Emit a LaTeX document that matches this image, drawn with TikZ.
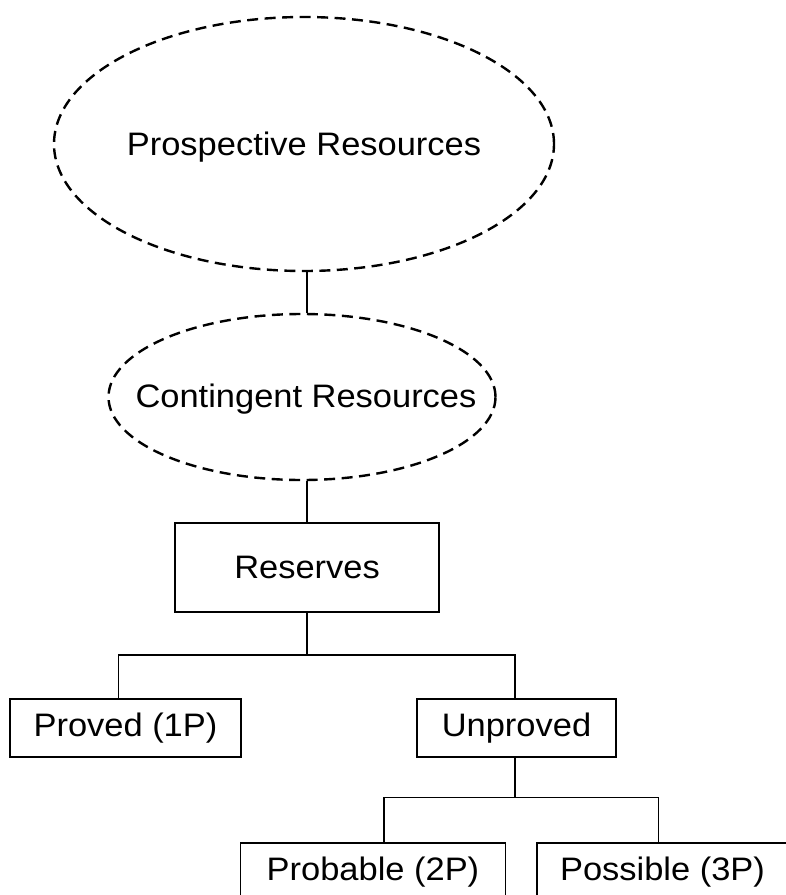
\documentclass[tikz,border=0pt]{standalone}
\usepackage{fontspec}
\setmainfont{Liberation Sans}[FakeStretch=1.06]
\usetikzlibrary{shapes.geometric}
\begin{document}
\begin{tikzpicture}[x=1pt,y=-1pt,
  every node/.style={font=\fontsize{32.5}{38}\selectfont, text=black},
  dashell/.style={ellipse, draw, line width=2.4pt, dash pattern=on 11pt off 6.5pt, inner sep=0pt},
  boxnode/.style={rectangle, draw, line width=1.4pt, inner sep=0pt},
  conn/.style={line width=1.4pt}
]
\useasboundingbox (0,0) rectangle (786,895);
\fill[white] (0,0) rectangle (786,895);

\node[dashell, minimum width=500pt, minimum height=254pt] (pr) at (304,144) {};
\node (prt) at (304,147) {Prospective Resources};

\node[dashell, minimum width=387pt, minimum height=166pt] (cr) at (302,397) {};
\node (crt) at (306,399) {Contingent Resources};

\node[boxnode, minimum width=264pt, minimum height=89pt] (res) at (307,567.5) {Reserves};

\node[boxnode, minimum width=231pt, minimum height=58pt] (pv) at (125.5,728) {Proved (1P)};
\node[boxnode, minimum width=199pt, minimum height=58pt] (up) at (516.5,728) {Unproved};

\node[boxnode, minimum width=265pt, minimum height=58pt] (pb) at (373,872) {Probable (2P)};
\node[boxnode, minimum width=251pt, minimum height=58pt] (ps) at (662.5,872) {Possible (3P)};

\coordinate (j1) at (307,655);
\coordinate (j2) at (515,797.5);

\draw[conn] (res.north |- pr.south) -- (res.north |- cr.north);
\draw[conn] (res.north |- cr.south) -- (res.north);
\draw[conn] (res.south) -- (j1);
\draw[conn] ([xshift=-7pt]pv.north) |- (j1) -| ([xshift=-1.5pt]up.north);
\draw[conn] ([xshift=-1.5pt]up.south) -- (j2);
\draw[conn] ([xshift=11pt]pb.north) |- (j2) -| ([xshift=-4pt]ps.north);
\end{tikzpicture}
\end{document}
